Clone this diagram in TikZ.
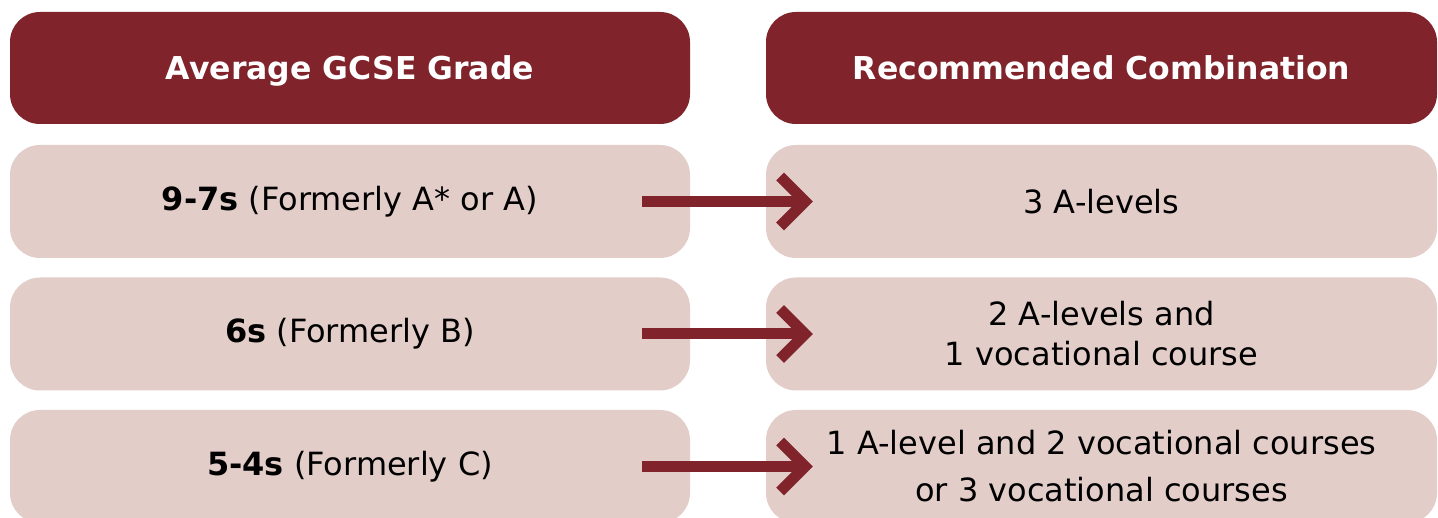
\documentclass[tikz,border=0pt]{standalone}
\usepackage{fontspec}
\setmainfont{DejaVu Sans}
\usetikzlibrary{arrows.meta}

\definecolor{gcsered}{HTML}{80232B}
\definecolor{gcsepink}{HTML}{E2CDC9}

\tikzset{
	headbox/.style={fill=gcsered, text=white, rounded corners=30pt, minimum height=112pt, text height=27pt, text depth=4pt, font=\fontsize{31.5}{38}\selectfont\bfseries},
	rowbox/.style={fill=gcsepink, text=black, rounded corners=30pt, minimum height=113pt, align=center, font=\fontsize{32}{40}\selectfont},
	bigarrow/.style={draw=gcsered, line width=11pt, -{Straight Barb[length=25pt, width=50pt, line width=11pt]}}
}

\begin{document}
\begin{tikzpicture}[x=1pt, y=-1pt]
		\useasboundingbox (0, 0) rectangle (1438, 518);
		
		\node[headbox, minimum width=680pt] (gradehead) at (350, 68) {Average GCSE Grade};
		\node[headbox, minimum width=671pt] (combohead) at (1101.5, 68) {Recommended Combination};
		
		\node[rowbox, minimum width=680pt] (grade1) at (350, 201.5) {\textbf{9-7s} (Formerly A* or A)};
		\node[rowbox, minimum width=680pt] (grade2) at (350, 334) {\textbf{6s} (Formerly B)};
		\node[rowbox, minimum width=680pt] (grade3) at (350, 466.5) {\textbf{5-4s} (Formerly C)};
		
		\node[rowbox, minimum width=671pt] (combo1) at (1101.5, 201.5) {3 A-levels};
		\node[rowbox, minimum width=671pt] (combo2) at (1101.5, 334) {2 A-levels and\\1 vocational course};
		\node[rowbox, minimum width=671pt] (combo3) at (1101.5, 466.5) {1 A-level and 2 vocational courses\\[7pt]or 3 vocational courses};
		
		\path ([xshift=-48pt]grade1.east) edge[bigarrow] ([xshift=47pt]combo1.west);
		\path ([xshift=-48pt]grade2.east) edge[bigarrow] ([xshift=47pt]combo2.west);
		\path ([xshift=-48pt]grade3.east) edge[bigarrow] ([xshift=47pt]combo3.west);
	\end{tikzpicture}
\end{document}
